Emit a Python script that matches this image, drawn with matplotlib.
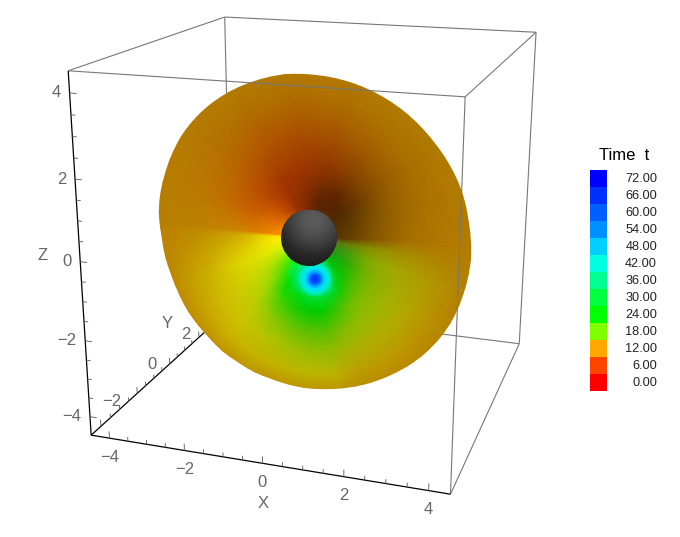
import matplotlib
matplotlib.use("Agg")
import matplotlib.pyplot as plt
import numpy as np
from matplotlib.colors import to_rgb, to_rgba
from matplotlib.patches import Circle, PathPatch
from matplotlib.path import Path

# camera: box corners (x, y, z in box units) and where they land on the picture
box_lim = 4.5
corners_3d = [(-1, -1, -1), (1, -1, -1), (-1, -1, 1), (1, -1, 1), (-1, 1, 1), (1, 1, 1), (1, 1, -1)]
corners_px = [(91, 435), (451, 494), (68, 71), (465, 97), (225, 17), (536, 32), (519, 344)]

major_ticks = [-4, -2, 0, 2, 4]
y_labelled = [-2, 0, 2]
y_label_shift = [(-25, 8), (-18, 1), (-13, -3)]
minor_step = 0.5

sphere_center = (309, 237.5)
sphere_radius = 28

# spokes around the sphere, degrees clockwise from the right (picture coordinates)
spoke_deg = [2, 10, 20, 35, 50, 60, 70, 80, 90, 100, 115, 130, 145, 160, 175, 183, 186,
             205, 225, 245, 265, 285, 305, 325, 345]
rim_px = [162.5, 163.8, 165.3, 166.5, 163, 160.5, 157.5, 154, 151, 148, 144.5, 142, 141.5,
          142.5, 146, 149, 150.5, 159, 165, 166.5, 164.3, 161.5, 158, 158, 160]
ring_frac = [0.15, 0.20, 0.26, 0.32, 0.38, 0.46, 0.58, 0.72, 0.86, 1.0]
ring_colors = [
    "#5a3a00 #5f3c00 #6a4200 #784c00 #845600 #926000 #a66e00 #ae7600 #b27a00 #b27c00",
    "#5c7a10 #5c7c10 #6a8408 #7c8c00 #8a9000 #989000 #a68c00 #ae8600 #b28000 #b27c00",
    "#3e8e10 #3e9210 #529c08 #6ca400 #86a800 #98a800 #a8a400 #b09a00 #b48c00 #b27e00",
    "#18a010 #18a810 #26ac06 #48b000 #6cb400 #8ab400 #a4b000 #b4a400 #b89000 #b47e00",
    "#00c000 #00c400 #0cc400 #20c000 #50bc00 #7cbc00 #9cb800 #b4ac00 #bc9800 #b88200",
    "#00d860 #00e060 #00e040 #00d010 #20c800 #64c000 #90bc00 #b0b000 #bc9c00 #ba8400",
    "#00e8a0 #00e8c0 #00e8a0 #00e8a0 #00d820 #30c400 #78bc00 #a8b400 #bca000 #ba8800",
    "#00e0c0 #00e8c0 #00e8c0 #00e8c0 #00e030 #00cc00 #50c000 #90bc00 #bcb400 #bc8c00",
    "#00e0b0 #00e8b0 #00e8c0 #00e8c0 #00e030 #00cc00 #54c000 #94bc00 #bcb800 #bc8c00",
    "#00e880 #00e8a8 #00e8a0 #00e880 #00dc10 #14cc00 #60c400 #a0c000 #c0b400 #bc8c00",
    "#00e830 #00f040 #00e840 #00e000 #10d800 #48d000 #88c800 #b8c400 #c4b400 #bc8c00",
    "#30f000 #40ec00 #50e400 #70dc00 #90d800 #a8d400 #c0cc00 #ccc400 #ccb000 #bc8800",
    "#90f000 #98ec00 #a8e400 #b8e000 #c4dc00 #ccd800 #d0cc00 #d0bc00 #c8a400 #bc8600",
    "#d8f400 #d8f000 #e0ec00 #e4e800 #e4e000 #e0d800 #d8c800 #ccb000 #c49c00 #bc8400",
    "#ffee00 #fff000 #f8e800 #ecdc00 #e0cc00 #d8bc00 #ccaa00 #c49800 #be8c00 #ba8000",
    "#ffe000 #ffe400 #f0d800 #e4c800 #dcb800 #d0a800 #c89800 #c08c00 #bc8400 #b88000",
    "#ff9c10 #f89000 #ec8800 #e08000 #d88000 #cc8400 #c48400 #bc8000 #b88000 #b67c00",
    "#f08000 #e87000 #dc6c00 #d06400 #c86000 #c46400 #c07000 #bc7800 #b87c00 #b67c00",
    "#d06000 #c85400 #c04c00 #b84800 #b84c00 #b85400 #b86400 #b67000 #b47800 #b47c00",
    "#a03800 #a03400 #a03400 #a03400 #a43800 #a84400 #b05400 #b26400 #b27400 #b27c00",
    "#7c2c00 #802c00 #882e00 #923000 #9a3400 #a03c00 #a64a00 #ac5e00 #b07000 #b27c00",
    "#5c2800 #5c2400 #642800 #742c00 #843000 #923a00 #a04c00 #aa6000 #ae7200 #b27c00",
    "#5e3000 #5a2400 #5a2000 #642800 #743400 #864200 #9a5400 #a86800 #ae7600 #b27c00",
    "#4c2c00 #4c2c00 #542e00 #603400 #6e3e00 #804c00 #965e00 #a66c00 #ae7600 #b27c00",
    "#4e3200 #563600 #603c00 #6c4400 #7a4e00 #8a5a00 #9e6800 #aa7200 #b07800 #b27c00",
]

# outline of the disc, read every 15 degrees from the sphere centre
outline_px = [162.3, 164.5, 166.3, 164.5, 160.5, 156, 151, 147, 143.5, 141.7, 141.7, 143.3,
              147.5, 155, 161, 165.5, 166.5, 166, 163.8, 161.5, 158.5, 157.5, 158.3, 160]

# the earliest-arrival spot: colour against distance from its centre
spot_center = (315, 279)
spot_dist = [0, 4, 7, 10, 14, 18]
spot_colors = ["#0030ff", "#0050ff", "#00a0ff", "#00e0ff", "#00f0d0", "#00e880"]
spot_alpha = [1, 1, 1, 1, 0.9, 0]

# grey levels on the ball, by distance from its highlight (in ball radii)
ball_dist = [0, 0.3, 0.6, 0.9, 1.2, 1.6, 2.1]
ball_grey = [94, 88, 76, 60, 42, 28, 22]

legend_values = [0, 6, 12, 18, 24, 30, 36, 42, 48, 54, 60, 66, 72]
legend_colors = ["#ff0000", "#ff4400", "#ffa800", "#80ff00", "#00ff00", "#00ff40", "#00ff90",
                 "#00ffe0", "#00d0ff", "#0090ff", "#0060ff", "#0030ff", "#0000ff"]

GREY = "#666666"
plt.rcParams["font.family"] = ["Liberation Sans", "DejaVu Sans"]


def fit_camera():
    rows, rhs = [], []
    for (x, y, z), (u, v) in zip(corners_3d, corners_px):
        p = [x * box_lim, y * box_lim, z * box_lim, 1]
        rows.append(p + [0, 0, 0, 0] + [-u * c for c in p[:3]])
        rows.append([0, 0, 0, 0] + p + [-v * c for c in p[:3]])
        rhs += [u, v]
    sol = np.linalg.lstsq(np.array(rows, float), np.array(rhs, float), rcond=None)[0]
    return np.append(sol, 1).reshape(3, 4)


cam = fit_camera()


def project(x, y, z):
    u, v, w = cam @ np.array([x, y, z, 1.0])
    return u / w, v / w


fig = plt.figure(figsize=(6.8, 5.37), dpi=100)
ax = fig.add_axes([0, 0, 1, 1])
ax.set_xlim(0, 680)
ax.set_ylim(537, 0)
ax.axis("off")


def edge(a, b, color="#777777", lw=0.8, z=1):
    pa, pb = project(*[c * box_lim for c in a]), project(*[c * box_lim for c in b])
    ax.plot([pa[0], pb[0]], [pa[1], pb[1]], color=color, lw=lw, zorder=z, solid_capstyle="butt")


# box edges behind the disc
edge((-1, 1, 1), (-1, 1, -1))
edge((-1, 1, -1), (1, 1, -1))
edge((-1, 1, -1), (-1, -1, -1), color="black", lw=0.9)
edge((1, 1, 1), (1, 1, -1))
# in front of it
edge((-1, -1, 1), (1, -1, 1), z=5)
edge((1, -1, 1), (1, -1, -1), z=5)
edge((-1, -1, 1), (-1, 1, 1), z=5)
edge((-1, 1, 1), (1, 1, 1), z=5)
edge((1, 1, 1), (1, -1, 1), z=5)
edge((1, 1, -1), (1, -1, -1), z=5)
edge((-1, -1, -1), (-1, -1, 1), color="black", lw=0.9, z=5)
edge((-1, -1, -1), (1, -1, -1), color="black", lw=0.9, z=5)

# the disc, gouraud shaded on the spokes, closed round by repeating the first one
phi = np.radians(spoke_deg + [spoke_deg[0] + 360])
rim = np.array(rim_px + [rim_px[0]])
frac = np.array(ring_frac)
mesh_x = sphere_center[0] + np.outer(rim * np.cos(phi), frac) * 1.04
mesh_y = sphere_center[1] + np.outer(rim * np.sin(phi), frac) * 1.04
rgb = np.array([[to_rgb(c) for c in row.split()] for row in ring_colors + ring_colors[:1]])
disc = ax.pcolormesh(mesh_x, mesh_y, rgb, shading="gouraud", zorder=2)

# smooth outline: quadratic curves between the midpoints of the readings
out_phi = np.radians(np.arange(len(outline_px)) * 15)
out_r = np.array(outline_px) + 1.0
ctrl = np.column_stack([sphere_center[0] + out_r * np.cos(out_phi),
                        sphere_center[1] + out_r * np.sin(out_phi)])
mids = (ctrl + np.roll(ctrl, -1, axis=0)) / 2
verts, codes = [mids[-1]], [Path.MOVETO]
for c, m in zip(ctrl, mids):
    verts += [c, m]
    codes += [Path.CURVE3, Path.CURVE3]
outline = PathPatch(Path(verts, codes), transform=ax.transData, fc="none", ec="none")
ax.add_patch(outline)
disc.set_clip_path(outline)

# the spot on top, fading into the green around it
ang = np.radians(np.arange(0, 361, 15))
sd = np.array(spot_dist, float)
spot_rgba = np.array([to_rgba(c, a) for c, a in zip(spot_colors, spot_alpha)])
ax.pcolormesh(spot_center[0] + np.outer(np.cos(ang), sd), spot_center[1] + np.outer(np.sin(ang), sd),
              np.tile(spot_rgba, (len(ang), 1, 1)), shading="gouraud", zorder=2.5)

# the ball
hl_x, hl_y = sphere_center[0] + 5, sphere_center[1] - 17
dist = np.array(ball_dist) * sphere_radius
ball = ax.pcolormesh(hl_x + np.outer(np.cos(ang), dist), hl_y + np.outer(np.sin(ang), dist),
                     np.tile(ball_grey, (len(ang), 1)), shading="gouraud", cmap="gray",
                     vmin=0, vmax=255, zorder=3)
ball_clip = Circle(sphere_center, sphere_radius, transform=ax.transData, fc="none", ec="none")
ax.add_patch(ball_clip)
ball.set_clip_path(ball_clip)

# ticks: they stick out along +x on the z axis and +z on the other two
minor = np.arange(-4.5, 4.5 + 0.01, minor_step)
low = -box_lim
for t in minor[1:-1]:
    major = t in major_ticks
    length = 0.17 if major else 0.1
    for a, b, z in [((low, low, t), (low + length, low, t), 5),
                    ((t, low, low), (t, low, low + length), 5),
                    ((low, t, low), (low, t, low + length), 1)]:
        pa, pb = project(*a), project(*b)
        ax.plot([pa[0], pb[0]], [pa[1], pb[1]], color="#555555", lw=0.6, zorder=z)

label_kw = dict(color=GREY, fontsize=12, zorder=6, va="center")
for t in major_ticks:
    text = str(t).replace("-", "\u2212")
    px, py = project(low, low, t)
    ax.text(px - 9, py, text, ha="right", **label_kw)
    px, py = project(t, low, low)
    ax.text(px, py + 19, text, ha="center", **label_kw)
for t, (dx, dy) in zip(y_labelled, y_label_shift):
    text = str(t).replace("-", "\u2212")
    px, py = project(low, t, low)
    ax.text(px + dx, py + dy, text, ha="center", **label_kw)
ax.text(263, 504, "X", ha="center", **label_kw)
ax.text(167, 324, "Y", ha="center", **label_kw)
ax.text(43, 256, "Z", ha="center", **label_kw)

# colour key
swatch = 17
key_ax = fig.add_axes([590 / 680, 1 - 391 / 537, 67 / 680, 221 / 537])
key_ax.set_xlim(0, 67)
key_ax.set_ylim(-0.5, len(legend_values) - 0.5)
key_ax.axis("off")
key_ax.bar(np.full(len(legend_values), swatch / 2), 1, width=swatch,
           bottom=np.arange(len(legend_values)) - 0.5, color=legend_colors)
for i, v in enumerate(legend_values):
    key_ax.text(67, i - 0.05, f"{v:.2f}", ha="right", va="center", fontsize=9.2, color="#222222")
ax.text(624, 155, "Time  t", ha="center", va="center", fontsize=12, color="black")

fig.savefig("out.png", dpi=100)
